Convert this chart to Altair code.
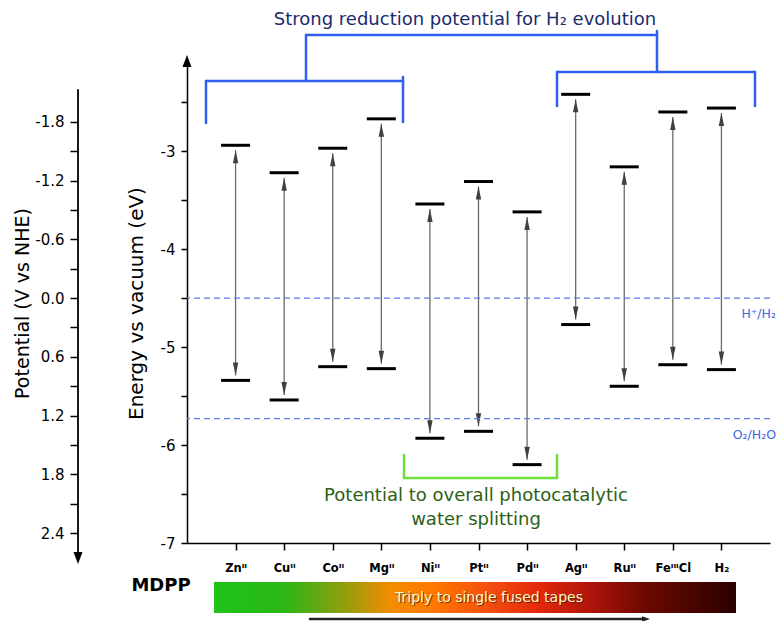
import altair as alt
import pandas as pd

FONT = "DejaVu Sans"

# ---------------- data ----------------
categories = ["Znᴵᴵ", "Cuᴵᴵ", "Coᴵᴵ", "Mgᴵᴵ", "Niᴵᴵ", "Ptᴵᴵ", "Pdᴵᴵ", "Agᴵᴵ", "Ruᴵᴵ", "FeᴵᴵᴵCl", "H₂"]
lumo = [-2.94, -3.22, -2.97, -2.67, -3.54, -3.31, -3.62, -2.42, -3.16, -2.60, -2.56]
homo = [-5.34, -5.54, -5.20, -5.22, -5.93, -5.86, -6.20, -4.77, -5.40, -5.18, -5.23]
ref_names = ["H⁺/H₂", "O₂/H₂O"]
ref_potential = [0.0, 1.23]
energy_ticks = [-7, -6.5, -6, -5.5, -5, -4.5, -4, -3.5, -3, -2.5]
potential_ticks = [-1.8, -1.5, -1.2, -0.9, -0.6, -0.3, 0.0, 0.3, 0.6, 0.9, 1.2, 1.5, 1.8, 2.1, 2.4]

W, H = 583, 480

df = pd.DataFrame({"cat": categories, "lumo": lumo, "homo": homo})
ref_df = pd.DataFrame({"name": ref_names, "V": ref_potential})
one = pd.DataFrame({"a": [0]})

# ---------------- main energy-level plot ----------------
xenc = alt.X(
    "cat:N", sort=categories,
    scale=alt.Scale(type="point", padding=1),
    axis=alt.Axis(title=None, labelAngle=0, labelFont=FONT, labelFontWeight="bold",
                  labelFontSize=11.5, labelColor="black", labelPadding=12,
                  tickSize=7, tickWidth=1.5, tickColor="black",
                  domainColor="black", domainWidth=1.5, grid=False),
)
yscale = alt.Scale(domain=[-7, -2.1], nice=False, zero=False)
yaxis = alt.Axis(
    title="Energy vs vacuum (eV)", values=energy_ticks,
    labelExpr="datum.value % 1 == 0 ? '' + datum.value : ''",
    labelFont=FONT, labelFontSize=15, labelColor="black", labelPadding=6,
    tickSize=6, tickWidth=1.5, tickColor="black",
    domainColor="black", domainWidth=1.5, grid=False,
    titleFont=FONT, titleFontSize=20, titleFontWeight="normal", titleColor="black",
    titlePadding=14,
)

base = alt.Chart(df)
top_bar = base.mark_tick(orient="horizontal", size=29, thickness=3, color="black", opacity=1).encode(
    x=xenc, y=alt.Y("lumo:Q", scale=yscale, axis=yaxis))
bot_bar = base.mark_tick(orient="horizontal", size=29, thickness=3, color="black", opacity=1).encode(
    x=xenc, y=alt.Y("homo:Q", scale=yscale, axis=yaxis))
link = base.mark_rule(color="#6a6a6a", strokeWidth=1.3, yOffset=5, y2Offset=-5).encode(
    x=xenc, y=alt.Y("lumo:Q", scale=yscale, axis=yaxis), y2="homo:Q")
head_up = base.mark_point(shape="M0,-1L0.42,1L-0.42,1Z", filled=True, size=169,
                          color="#404040", opacity=1, yOffset=11.5).encode(
    x=xenc, y=alt.Y("lumo:Q", scale=yscale, axis=yaxis))
head_dn = base.mark_point(shape="M0,1L0.42,-1L-0.42,-1Z", filled=True, size=169,
                          color="#404040", opacity=1, yOffset=-11.5).encode(
    x=xenc, y=alt.Y("homo:Q", scale=yscale, axis=yaxis))

main = alt.layer(link, top_bar, bot_bar, head_up, head_dn)

# ---------------- potential axis + reference levels ----------------
vy = alt.Y(
    "V:Q",
    scale=alt.Scale(domain=[-2.4, 2.5], reverse=True, nice=False, zero=False),
    axis=alt.Axis(
        orient="left", offset=109, title="Potential (V vs NHE)", values=potential_ticks,
        labelExpr="abs(round(datum.value*10)) % 6 == 0 ? (datum.value < 0 ? '-' : '') + format(abs(datum.value), '.1f') : ''",
        labelFont=FONT, labelFontSize=15, labelColor="black", labelPadding=6,
        tickSize=8, tickWidth=1.5, tickColor="black", domain=False, grid=False,
        titleFont=FONT, titleFontSize=19, titleFontWeight="normal", titleColor="black",
        titlePadding=2,
    ),
)
ref_rule = alt.Chart(ref_df).mark_rule(color="#5b7be8", strokeDash=[6, 4], strokeWidth=1.2).encode(y=vy)
ref_text = alt.Chart(ref_df).mark_text(align="right", baseline="middle", dy=16, fontSize=12.5,
                                       font=FONT, color="#4466e0").encode(
    y=vy, x=alt.value(W + 6), text="name:N")
pot = alt.layer(ref_rule, ref_text)

# ---------------- decorations ----------------
def seg(x1, y1, x2, y2, color, width):
    c = alt.Chart(one).mark_rule(color=color, strokeWidth=width, strokeCap="round")
    if y1 == y2:
        return c.encode(x=alt.value(x1), x2=alt.value(x2), y=alt.value(y1))
    return c.encode(x=alt.value(x1), y=alt.value(y1), y2=alt.value(y2))

BLUE = "#2f5ff0"
GREEN = "#6ee03a"
deco = [
    # axis arrows
    alt.Chart(one).mark_point(shape="M0,-1L0.75,1L-0.75,1Z", filled=True, size=144, color="black",
                              opacity=1).encode(x=alt.value(0), y=alt.value(-2)),
    seg(-109, 27, -109, 489, "black", 1.8),
    alt.Chart(one).mark_point(shape="M0,1L0.75,-1L-0.75,-1Z", filled=True, size=144, color="black",
                              opacity=1).encode(x=alt.value(-109), y=alt.value(495)),
    # blue brackets
    seg(119, -28, 470, -28, BLUE, 2.5),
    seg(119, -28, 119, 18, BLUE, 2.5),
    seg(470, -32, 470, 9, BLUE, 2.5),
    seg(19, 18, 216, 18, BLUE, 2.5),
    seg(19, 18, 19, 60, BLUE, 2.5),
    seg(216, 14, 216, 59, BLUE, 2.5),
    seg(370, 9, 568, 9, BLUE, 2.5),
    seg(370, 9, 370, 43, BLUE, 2.5),
    seg(568, 9, 568, 43, BLUE, 2.5),
    # green bracket
    seg(217, 392, 217, 415, GREEN, 2.5),
    seg(217, 415, 370, 415, GREEN, 2.5),
    seg(370, 392, 370, 415, GREEN, 2.5),
    # texts
    alt.Chart(one).mark_text(text="Strong reduction potential for H₂ evolution", font=FONT, fontSize=18,
                             color="#1c2a6e", align="center", baseline="alphabetic").encode(
        x=alt.value(278), y=alt.value(-38)),
    alt.Chart(one).mark_text(text="Potential to overall photocatalytic", font=FONT, fontSize=18,
                             color="#2d5f16", align="center", baseline="alphabetic").encode(
        x=alt.value(289), y=alt.value(438)),
    alt.Chart(one).mark_text(text="water splitting", font=FONT, fontSize=18,
                             color="#2d5f16", align="center", baseline="alphabetic").encode(
        x=alt.value(289), y=alt.value(462)),
    alt.Chart(one).mark_text(text="MDPP", font=FONT, fontSize=18, fontWeight="bold",
                             color="black", align="center", baseline="alphabetic").encode(
        x=alt.value(-26), y=alt.value(528)),
    # gradient bar
    alt.Chart(one).mark_rect(color=alt.Gradient(
        gradient="linear", x1=0, x2=1, y1=0, y2=0,
        stops=[alt.GradientStop(color="#1ec41a", offset=0),
               alt.GradientStop(color="#2bb616", offset=0.13),
               alt.GradientStop(color="#62a812", offset=0.2),
               alt.GradientStop(color="#a89a0a", offset=0.27),
               alt.GradientStop(color="#f48c00", offset=0.34),
               alt.GradientStop(color="#ff7800", offset=0.42),
               alt.GradientStop(color="#f5500e", offset=0.52),
               alt.GradientStop(color="#e42a0c", offset=0.62),
               alt.GradientStop(color="#b0140a", offset=0.72),
               alt.GradientStop(color="#6a0800", offset=0.83),
               alt.GradientStop(color="#2a0000", offset=1)])).encode(
        x=alt.value(27), x2=alt.value(549), y=alt.value(519), y2=alt.value(550)),
    alt.Chart(one).mark_text(text="Triply to single fused tapes", font=FONT, fontSize=14,
                             color="#3a2600", opacity=0.7, align="center", baseline="middle",
                             dx=1, dy=1).encode(x=alt.value(302), y=alt.value(535)),
    alt.Chart(one).mark_text(text="Triply to single fused tapes", font=FONT, fontSize=14,
                             color="#fff6c8", align="center", baseline="middle").encode(
        x=alt.value(302), y=alt.value(535)),
    # process arrow
    seg(123, 556, 456, 556, "#222222", 2.5),
    alt.Chart(one).mark_point(shape="M1,0L-1,-0.7L-1,0.7Z", filled=True, size=64, color="#222222",
                              opacity=1).encode(x=alt.value(459), y=alt.value(556)),
]

chart = alt.layer(main, pot, *deco).resolve_scale(y="independent").properties(
    width=W, height=H,
    autosize=alt.AutoSizeParams(type="none"),
    padding={"left": 179, "top": 55, "right": 6, "bottom": 78},
).configure_view(stroke=None)

chart.save("out.html", embed_options={"renderer": "svg", "actions": False})
